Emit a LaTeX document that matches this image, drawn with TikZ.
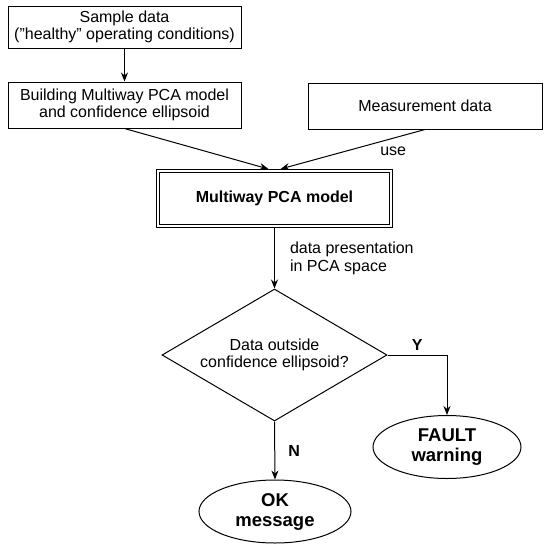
\documentclass[tikz,border=0pt]{standalone}
\usepackage{fontspec}
\setmainfont{Liberation Sans}
\usetikzlibrary{shapes.geometric, arrows.meta}

\tikzset{
  databox/.style={draw, line width=1pt, minimum width=233pt, minimum height=42pt,
    inner sep=1pt, align=center, font=\fontsize{16}{17.5}\selectfont},
  mainbox/.style={draw, line width=1pt, minimum width=236pt, minimum height=58pt,
    align=center, font=\fontsize{16}{17.5}\selectfont\bfseries},
  decision/.style={draw, diamond, aspect=1.7, line width=1pt, minimum width=225pt,
    minimum height=132pt, inner sep=0pt, align=center,
    font=\fontsize{16}{17.5}\selectfont},
  outcome/.style={draw, ellipse, line width=1pt, minimum width=148pt,
    minimum height=63pt, inner sep=0pt, align=center,
    font=\fontsize{18.5}{20}\selectfont\bfseries},
  flow/.style={->, line width=1pt},
  lbl/.style={inner sep=1pt, font=\fontsize{16}{17.5}\selectfont},
}

\begin{document}
\begin{tikzpicture}[>={Stealth[length=9pt, width=7pt]}, x=1pt, y=-1pt]
    \useasboundingbox (0,0) rectangle (550,550);

    % ===== input side =====
    \node[databox] (sample) at (124.5,27) {Sample data\\(''healthy'' operating conditions)};
    \node[databox, minimum height=46pt] (build) at (124.5,105) {Building Multiway PCA model\\and confidence ellipsoid};
    \node[databox, minimum width=234pt, minimum height=46pt] (meas) at (425,106) {Measurement data};

    \node[mainbox] (model) at (274.5,198.5) {Multiway PCA model};
    \draw[line width=1pt] ([shift={(3.5pt,-3.5pt)}]model.north west) rectangle ([shift={(-3.5pt,3.5pt)}]model.south east);

    % ===== decision =====
    \node[decision] (check) at (274.5,355) {Data outside\\confidence ellipsoid?};
    \node[outcome] (fault) at (447,447) {FAULT\\warning};
    \node[outcome, minimum width=152pt] (ok) at (275,511.5) {OK\\message};

    % connectors
    \draw[flow] (sample) -- (build);
    \draw[flow] (build.south) -- ([xshift=-6pt]model.north);
    \draw[flow] (meas.south) -- node[lbl, pos=0.22, below=7pt] {use} ([xshift=6pt]model.north);
    \draw[flow] (model) -- node[lbl, midway, anchor=west, xshift=14pt, align=left] {data presentation\\in PCA space} (check);
    \draw[flow] (check.east) -| node[lbl, pos=0.25, above=3pt, font=\fontsize{16}{17.5}\selectfont\bfseries] {Y} (fault.north);
    \draw[flow] (check.south) -- node[lbl, midway, right=12pt, font=\fontsize{16}{17.5}\selectfont\bfseries] {N} (ok.north);
\end{tikzpicture}
\end{document}
